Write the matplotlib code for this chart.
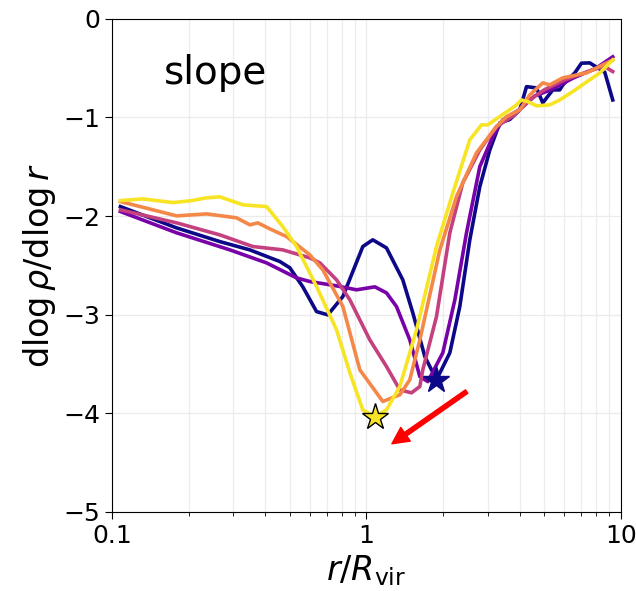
import matplotlib
matplotlib.use("Agg")
import matplotlib.pyplot as plt
import numpy as np
from matplotlib.ticker import FixedLocator, FixedFormatter, LogLocator, NullFormatter

cmap = plt.get_cmap("plasma")
colors = [cmap(v) for v in np.linspace(0, 0.95, 5)]

x_navy = [0.108, 0.1796, 0.2657, 0.3484, 0.4571, 0.5004, 0.5628, 0.6373, 0.7059, 0.8086, 0.9687, 1.060, 1.200, 1.391, 1.523, 1.698, 1.887, 2.129, 2.330, 2.551, 2.793, 3.057, 3.346, 3.664, 4.010, 4.262, 4.665, 4.938, 5.405, 5.757, 5.916, 6.597, 7.009, 7.555, 8.652, 9.302]
y_navy = [-1.904, -2.120, -2.259, -2.343, -2.461, -2.525, -2.718, -2.969, -3.002, -2.816, -2.309, -2.241, -2.323, -2.647, -2.982, -3.425, -3.661, -3.387, -2.918, -2.241, -1.701, -1.329, -1.055, -1.020, -0.923, -0.687, -0.700, -0.852, -0.720, -0.720, -0.670, -0.548, -0.449, -0.446, -0.540, -0.822]

x_purple = [0.108, 0.1796, 0.2909, 0.4055, 0.5316, 0.5998, 0.7637, 0.9152, 1.080, 1.200, 1.314, 1.482, 1.623, 1.745, 1.998, 2.228, 2.476, 2.793, 3.141, 3.438, 4.0, 4.6, 5.3, 6.5, 8.0, 9.3]
y_purple = [-1.954, -2.170, -2.343, -2.475, -2.627, -2.664, -2.708, -2.748, -2.718, -2.779, -2.918, -3.256, -3.628, -3.679, -3.387, -2.850, -2.170, -1.498, -1.194, -1.024, -0.92, -0.78, -0.72, -0.60, -0.50, -0.385]

x_magenta = [0.108, 0.1796, 0.2657, 0.3581, 0.4697, 0.5998, 0.6568, 0.7637, 0.8615, 1.032, 1.200, 1.354, 1.505, 1.623, 1.667, 1.887, 2.129, 2.394, 2.793, 3.248, 3.8, 4.4, 5.0, 6.0, 7.5, 8.6, 9.3]
y_magenta = [-1.937, -2.069, -2.191, -2.309, -2.343, -2.424, -2.475, -2.647, -2.850, -3.256, -3.526, -3.763, -3.793, -3.729, -3.560, -3.019, -2.170, -1.663, -1.329, -1.092, -0.98, -0.82, -0.72, -0.62, -0.53, -0.48, -0.534]

x_orange = [0.108, 0.1796, 0.2355, 0.3090, 0.3484, 0.3747, 0.4176, 0.4858, 0.5998, 0.6747, 0.8086, 0.9429, 1.161, 1.354, 1.482, 1.623, 1.945, 2.262, 2.710, 3.248, 3.556, 4.010, 4.390, 4.938, 5.260, 5.916, 7.333, 9.302]
y_orange = [-1.853, -1.998, -1.978, -2.018, -2.089, -2.069, -2.130, -2.208, -2.394, -2.546, -2.918, -3.560, -3.881, -3.813, -3.661, -3.256, -2.343, -1.802, -1.359, -1.092, -0.991, -0.923, -0.771, -0.649, -0.669, -0.598, -0.548, -0.416]

x_yellow = [0.108, 0.1323, 0.1737, 0.2025, 0.2355, 0.2657, 0.3271, 0.4055, 0.4697, 0.5316, 0.6373, 0.7637, 0.8615, 0.9687, 1.080, 1.200, 1.354, 1.575, 1.887, 2.188, 2.551, 2.836, 3.002, 3.346, 3.86, 4.073, 4.312, 4.665, 5.260, 5.757, 6.479, 8.270, 9.302]
y_yellow = [-1.843, -1.826, -1.863, -1.846, -1.815, -1.805, -1.886, -1.904, -2.107, -2.309, -2.715, -3.154, -3.590, -3.966, -4.034, -3.966, -3.729, -3.154, -2.309, -1.765, -1.227, -1.075, -1.075, -0.991, -0.88, -0.822, -0.839, -0.882, -0.872, -0.822, -0.737, -0.548, -0.416]

star_navy = (1.887, -3.661)
star_yellow = (1.080, -4.034)
arrow_start = (2.48, -3.78)
arrow_end = (1.26, -4.31)

xticks = [0.1, 1, 10]
xticklabels = ["0.1", "1", "10"]
yticks = [-5, -4, -3, -2, -1, 0]

fig = plt.figure(figsize=(6.36, 5.91), dpi=100)
ax = fig.add_axes([0.176, 0.134, 0.800, 0.834])

series = [(x_navy, y_navy), (x_purple, y_purple), (x_magenta, y_magenta), (x_orange, y_orange), (x_yellow, y_yellow)]
for (xs, ys), c in zip(series, colors):
    ax.plot(xs, ys, color=c, lw=2.6, zorder=3, solid_joinstyle="round")

ax.plot(*star_navy, marker="*", ms=20, color=colors[0], mec=colors[0], zorder=5)
ax.plot(*star_yellow, marker="*", ms=20, color=colors[4], mec="black", mew=1.0, zorder=5)

ax.annotate("", xy=arrow_end, xytext=arrow_start,
            arrowprops=dict(color="red", width=3, headwidth=12, headlength=12, shrink=0), zorder=6)

ax.set_xscale("log")
ax.set_xlim(0.1, 10)
ax.set_ylim(-5, 0)
ax.xaxis.set_major_locator(FixedLocator(xticks))
ax.xaxis.set_major_formatter(FixedFormatter(xticklabels))
ax.xaxis.set_minor_locator(LogLocator(base=10, subs=np.arange(2, 10)))
ax.xaxis.set_minor_formatter(NullFormatter())
ax.set_yticks(yticks)
ax.set_yticklabels([f"\u2212{abs(v)}" if v < 0 else str(v) for v in yticks])
ax.tick_params(labelsize=18, length=5)
ax.tick_params(which="minor", length=3)
ax.grid(which="major", color="0.92", lw=0.9)
ax.grid(which="minor", axis="x", color="0.93", lw=0.9)
ax.set_axisbelow(True)

ax.set_xlabel(r"$r/R_{\rm vir}$", fontsize=24)
ax.set_ylabel(r"$\mathrm{dlog}\,\rho/\mathrm{dlog}\,r$", fontsize=24)
ax.text(0.103, 0.89, "slope", transform=ax.transAxes, fontsize=28, va="center", ha="left")

fig.savefig("out.png", dpi=100)
